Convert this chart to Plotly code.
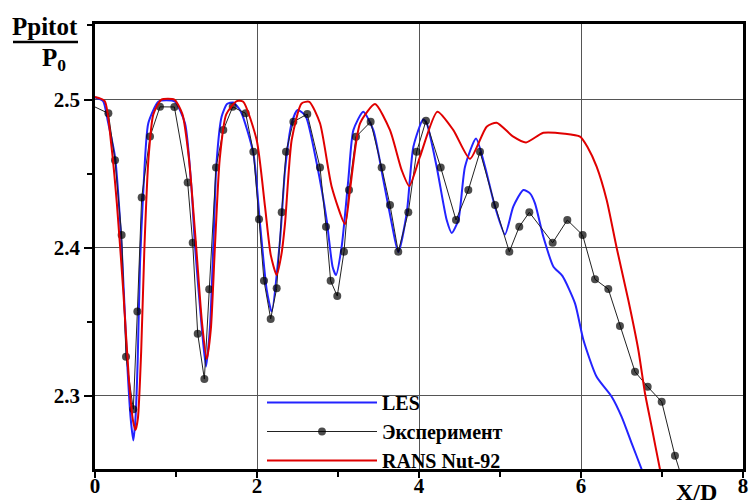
import plotly.graph_objects as go

# ---------------- data ----------------
les_x = [0.0, 0.1, 0.16, 0.247, 0.329, 0.391, 0.44, 0.473, 0.50, 0.527, 0.556, 0.597, 0.658, 0.78, 0.88,
         0.988, 1.111, 1.193, 1.235, 1.317, 1.37, 1.42, 1.46, 1.50, 1.563, 1.63, 1.707, 1.80, 1.955, 2.037,
         2.12, 2.181, 2.284, 2.346, 2.428, 2.50, 2.60, 2.737, 2.86, 2.934, 2.975, 3.045, 3.127, 3.19, 3.312,
         3.436, 3.56, 3.663, 3.744, 3.848, 3.93, 4.05, 4.095, 4.218, 4.342, 4.404, 4.486, 4.568, 4.704,
         4.815, 4.938, 5.062, 5.164, 5.288, 5.37, 5.432, 5.535, 5.66, 5.77, 5.926, 6.03, 6.193, 6.379,
         6.502, 6.626, 6.749, 6.80]
les_y = [2.5015, 2.499, 2.485, 2.4614, 2.4007, 2.3287, 2.285, 2.270, 2.285, 2.324, 2.39, 2.439, 2.484,
         2.4985, 2.4995, 2.4985, 2.484, 2.439, 2.4007, 2.3467, 2.3197, 2.3467, 2.40, 2.457, 2.4884, 2.497,
         2.498, 2.492, 2.4637, 2.4165, 2.3715, 2.357, 2.405, 2.4524, 2.484, 2.493, 2.489, 2.457, 2.4187,
         2.387, 2.3816, 2.4007, 2.4457, 2.4794, 2.4918, 2.4794, 2.4457, 2.4165, 2.397, 2.4232, 2.468,
         2.4866, 2.484, 2.4547, 2.4187, 2.410, 2.4187, 2.4547, 2.4738, 2.4547, 2.4277, 2.409, 2.4277,
         2.439, 2.4367, 2.43, 2.4074, 2.3872, 2.381, 2.3625, 2.3377, 2.3129, 2.2995, 2.2859, 2.268,
         2.2505, 2.243]

rans_x = [0.0, 0.12, 0.2, 0.27, 0.35, 0.42, 0.47, 0.50, 0.53, 0.57, 0.61, 0.66, 0.72, 0.82, 0.98, 1.08,
          1.16, 1.25, 1.32, 1.38, 1.43, 1.48, 1.54, 1.62, 1.75, 1.83, 1.996, 2.099, 2.17, 2.243, 2.30,
          2.346, 2.428, 2.55, 2.646, 2.778, 2.922, 3.086, 3.148, 3.272, 3.457, 3.642, 3.786, 3.88, 4.012,
          4.226, 4.424, 4.63, 4.835, 4.959, 5.164, 5.321, 5.535, 5.80, 5.988, 6.08, 6.193, 6.317, 6.44,
          6.584, 6.708, 6.79, 6.872, 6.975, 7.02]
rans_y = [2.5017, 2.499, 2.47, 2.43, 2.37, 2.31, 2.283, 2.277, 2.285, 2.33, 2.40, 2.46, 2.49, 2.5, 2.5,
          2.49, 2.46, 2.40, 2.35, 2.325, 2.345, 2.40, 2.46, 2.49, 2.499, 2.4985, 2.4727, 2.4277, 2.395,
          2.3816, 2.395, 2.4165, 2.4727, 2.4974, 2.4985, 2.484, 2.4412, 2.416, 2.4389, 2.484, 2.497, 2.4794,
          2.4524, 2.4416, 2.4614, 2.4918, 2.4794, 2.46, 2.4817, 2.4844, 2.475, 2.4711, 2.4776, 2.477,
          2.475, 2.468, 2.4547, 2.4322, 2.40, 2.3647, 2.331, 2.3018, 2.2792, 2.2505, 2.24]

exp_x = [0.0, 0.165, 0.247, 0.329, 0.383, 0.473, 0.523, 0.576, 0.679, 0.802, 0.98, 1.144, 1.206, 1.268,
         1.35, 1.41, 1.494, 1.584, 1.70, 1.86, 1.955, 2.025, 2.086, 2.169, 2.243, 2.305, 2.358, 2.449,
         2.621, 2.778, 2.852, 2.909, 2.991, 3.074, 3.136, 3.222, 3.403, 3.539, 3.642, 3.744, 3.868, 3.971,
         4.086, 4.268, 4.457, 4.609, 4.753, 4.938, 5.115, 5.238, 5.362, 5.65, 5.831, 6.02, 6.173, 6.337,
         6.481, 6.667, 6.823, 6.996, 7.16, 7.33]
exp_y = [2.495, 2.4907, 2.459, 2.4086, 2.3265, 2.291, 2.357, 2.434, 2.475, 2.4951, 2.495, 2.444, 2.4034,
         2.342, 2.3114, 2.372, 2.4542, 2.4794, 2.4951, 2.4907, 2.4648, 2.4192, 2.3777, 2.352, 2.3726,
         2.4239, 2.4648, 2.485, 2.4902, 2.4542, 2.4142, 2.3777, 2.3674, 2.3973, 2.4389, 2.4749, 2.485,
         2.4542, 2.4288, 2.3973, 2.4239, 2.4648, 2.4857, 2.4542, 2.4187, 2.4389, 2.4648, 2.4288, 2.3973,
         2.4142, 2.4239, 2.4034, 2.4187, 2.4086, 2.3787, 2.3721, 2.3472, 2.3163, 2.3062, 2.2961, 2.2597,
         2.23]

x_ticks = [0, 2, 4, 6, 8]
x_tick_text = ["0", "2", "4", "6", "8"]
y_ticks = [2.3, 2.4, 2.5]
y_tick_text = ["2.3", "2.4", "2.5"]

names = ["LES", "Эксперимент", "RANS Nut-92"]

# ---------------- figure ----------------
FONT = "Liberation Serif, Times New Roman, serif"
fig = go.Figure()

fig.add_trace(go.Scatter(x=les_x, y=les_y, mode="lines", name=names[0],
                         line=dict(color="#2323ff", width=2, shape="spline", smoothing=0.6)))
exp_sizes = [0] + [8] * (len(exp_x) - 1)
fig.add_trace(go.Scatter(x=exp_x, y=exp_y, mode="lines+markers", name=names[1],
                         line=dict(color="#222222", width=1),
                         marker=dict(color="black", size=exp_sizes, symbol="circle",
                                     line=dict(width=0))))
fig.add_trace(go.Scatter(x=rans_x, y=rans_y, mode="lines", name=names[2],
                         line=dict(color="#e00000", width=2, shape="spline", smoothing=0.6)))

axis_common = dict(
    showline=True, linecolor="black", linewidth=2.5, mirror=True,
    showgrid=True, gridcolor="#555555", gridwidth=1,
    zeroline=False, ticks="outside", tickwidth=1.5, tickcolor="black",
    automargin=False,
    tickfont=dict(family=FONT, size=21, color="black", weight="bold"),
)

fig.update_xaxes(range=[0, 8], tickvals=x_ticks, ticktext=x_tick_text, ticklen=6,
                 ticklabelstandoff=-10,
                 minor=dict(dtick=1, tick0=0, ticks="outside", ticklen=5, tickcolor="black",
                            showgrid=False),
                 **axis_common)
fig.update_yaxes(range=[2.2507, 2.551], tickvals=y_ticks, ticktext=y_tick_text, ticklen=8,
                 minor=dict(dtick=0.05, tick0=2.25, ticks="outside", ticklen=5, tickcolor="black",
                            showgrid=False),
                 **axis_common)

W, H = 749, 504
L, R, T, B = 95, 6, 24, 35
pw, ph = W - L - R, H - T - B


def px_x(p):
    return (p - L) / pw


def px_y(p):
    return (H - B - p) / ph


fig.update_layout(
    width=W, height=H,
    margin=dict(l=L, r=R, t=T, b=B, autoexpand=False),
    paper_bgcolor="white", plot_bgcolor="white",
    showlegend=True,
    legend=dict(x=px_x(262), y=px_y(383), xanchor="left", yanchor="top",
                bgcolor="rgba(0,0,0,0)", itemwidth=110, tracegroupgap=0,
                font=dict(family=FONT, size=20, color="black", weight="bold")),
    shapes=[
        dict(type="rect", xref="paper", yref="paper", x0=px_x(376), x1=px_x(538),
             y0=px_y(466), y1=px_y(391), fillcolor="white", line=dict(width=0), layer="between"),
        dict(type="line", xref="paper", yref="paper", x0=px_x(13), x1=px_x(78),
             y0=px_y(42), y1=px_y(42), line=dict(color="black", width=2.5)),
    ],
    annotations=[
        dict(text="Ppitot", xref="paper", yref="paper", x=px_x(45), y=px_y(27),
             xanchor="center", yanchor="middle", showarrow=False,
             font=dict(family=FONT, size=25, color="black", weight="bold")),
        dict(text="P<sub>0</sub>", xref="paper", yref="paper", x=px_x(54), y=px_y(60),
             xanchor="center", yanchor="middle", showarrow=False,
             font=dict(family=FONT, size=25, color="black", weight="bold")),
        dict(text="X/D", xref="paper", yref="paper", x=px_x(696), y=px_y(492),
             xanchor="center", yanchor="middle", showarrow=False,
             font=dict(family=FONT, size=24, color="black", weight="bold")),
    ],
)

fig.write_html("out.html")
